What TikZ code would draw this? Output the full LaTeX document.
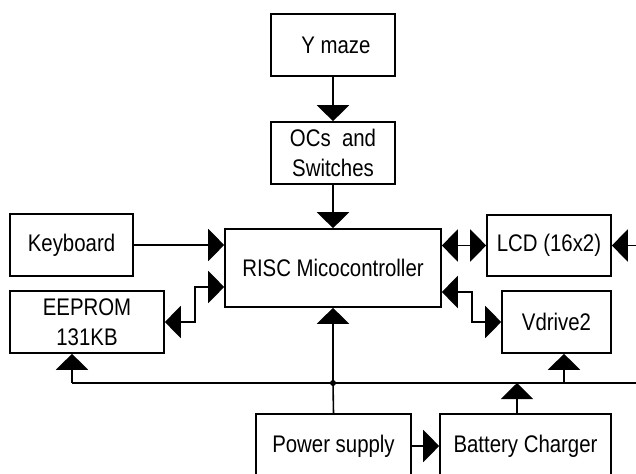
\documentclass[tikz,border=0pt]{standalone}
\usepackage{fontspec}
\setmainfont{Liberation Sans}[FakeStretch=0.85]
\usetikzlibrary{arrows.meta}
\begin{document}
\begin{tikzpicture}[x=1pt,y=-1pt,line width=1.6pt,
  blk/.style={draw,line width=1.6pt,minimum width=#1,inner sep=0pt,font=\fontsize{24}{30}\selectfont,align=center},
  arr/.style={-{Triangle[length=16pt,width=32pt]}},
  dbl/.style={{Triangle[length=16pt,width=32pt]}-{Triangle[length=16pt,width=32pt]}}]
\useasboundingbox (0,0) rectangle (636,473);
\clip (0,0) rectangle (636,473);
% blocks
\node[blk=124pt,minimum height=62pt] (ymaze) at (333,45) {\ Y maze};
\node[blk=124pt,minimum height=62pt] (ocs) at (333,153) {OCs\ \ and\\Switches};
\node[blk=216pt,minimum height=78pt] (risc) at (333,268) {RISC Micocontroller};
\node[blk=123pt,minimum height=62pt] (kbd) at (71.5,245) {Keyboard};
\node[blk=154pt,minimum height=62pt] (eeprom) at (87,322) {EEPROM\\131KB};
\node[blk=124pt,minimum height=61pt] (lcd) at (549,245.5) {LCD (16x2)};
\node[blk=109pt,minimum height=62pt] (vdrive) at (556.5,322) {Vdrive2};
\node[blk=155pt,minimum height=64pt] (power) at (333.5,446) {Power supply};
\node[blk=171pt,minimum height=64pt] (batt) at (525.5,446) {Battery Charger};
% coordinates
\coordinate (e1) at (195,287);
\coordinate (v1) at (472,292);
\coordinate (lcdin) at (640,245.5);
\coordinate (jn) at (333,383);
\coordinate (busL) at (72,383);
\coordinate (busR) at (640,383);
\coordinate (bc) at (517,383);
\coordinate (vb) at (564,383);
% connectors
\draw[arr] (ymaze.south) -- (ocs.north);
\draw[arr] (ocs.south) -- (risc.north);
\draw[arr] (kbd.east) -- (kbd.east -| risc.west);
\draw[dbl] (eeprom.east) -| (e1) -- (e1 -| risc.west);
\draw[dbl] (risc.east |- lcd.west) -- (lcd.west);
\draw[arr] (lcdin) -- (lcd.east);
\draw[dbl] (v1 -| risc.east) -| (v1) |- (vdrive.west);
\draw (busR) -- (busL);
\draw[arr] (busL) -- (busL |- eeprom.south);
\draw[arr] (jn) -- (risc.south);
\draw (power.north) -- (jn);
\fill (jn) circle (3pt);
\draw[arr] (bc |- batt.north) -- (bc);
\draw[arr] (vb) -- (vb |- vdrive.south);
\draw[arr] (power.east) -- (batt.west);
\end{tikzpicture}
\end{document}
